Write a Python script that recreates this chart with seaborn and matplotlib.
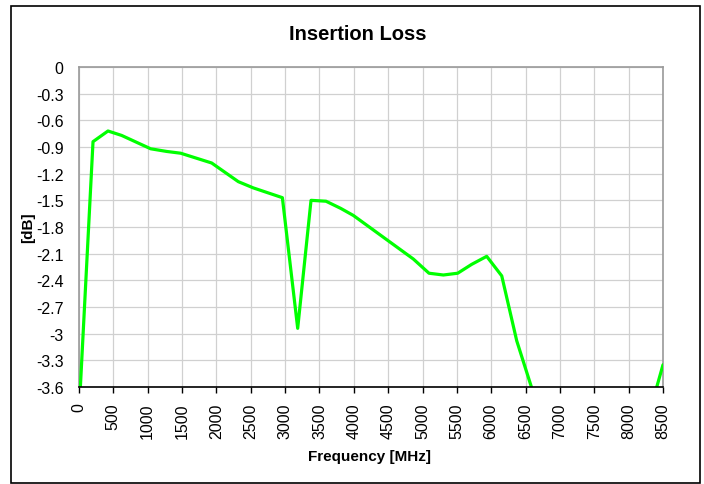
import numpy as np
import pandas as pd
import matplotlib
matplotlib.use("Agg")
import matplotlib.pyplot as plt
from matplotlib.patches import Rectangle
import seaborn as sns

# values (below -3.6 dB are estimates, clipped anyway)
freq_mhz = [10, 204, 422, 621, 1043, 1276, 1480, 1931, 2319, 2537, 2960,
            3183, 3377, 3595, 3808, 3993, 4866, 5094, 5303, 5512, 5716,
            5934, 6153, 6371, 6790, 7400, 8000, 8300, 8500]
loss_db = [-3.75, -0.84, -0.72, -0.77, -0.92, -0.95, -0.97, -1.08, -1.29,
           -1.36, -1.47, -2.94, -1.50, -1.51, -1.59, -1.67, -2.16, -2.32,
           -2.34, -2.32, -2.22, -2.13, -2.35, -3.08, -4.1, -5.0, -4.8,
           -3.9, -3.35]
x_ticks = list(range(0, 8501, 500))
y_ticks = [round(-0.3 * i, 1) for i in range(13)]

df = pd.DataFrame({"freq": freq_mhz, "loss": loss_db})

sns.set_style("white")
plt.rcParams["font.family"] = ["Liberation Sans", "DejaVu Sans"]
plt.rcParams["text.color"] = "black"
plt.rcParams["xtick.color"] = "black"
plt.rcParams["ytick.color"] = "black"

fig = plt.figure(figsize=(7.04, 4.85), dpi=100)
ax = fig.add_axes([79 / 704, 1 - 388 / 485, 584 / 704, 320 / 485])

sns.lineplot(data=df, x="freq", y="loss", ax=ax, color="#00ff00",
             linewidth=2.3, sort=False, zorder=3)

ax.set_xlim(0, 8500)
ax.set_ylim(-3.6, 0)
ax.set_xticks(x_ticks)
ax.set_xticklabels([str(t) for t in x_ticks], rotation=90, fontsize=11.5)
ax.set_yticks(y_ticks)
ax.set_yticklabels(["0" if t == 0 else f"{t:g}" for t in y_ticks], fontsize=11.5)
ax.grid(True, color="#d0d0d0", linewidth=0.9)
ax.tick_params(axis="x", length=4, width=1, color="black", pad=7, direction="out", bottom=True)
ax.tick_params(axis="y", length=0, pad=11)

for side in ["left", "top", "right"]:
    ax.spines[side].set_color("#9a9a9a")
    ax.spines[side].set_linewidth(1.2)
ax.spines["bottom"].set_color("black")
ax.spines["bottom"].set_linewidth(1.2)
ax.spines["bottom"].set_zorder(4)

ax.set_xlabel("")
ax.set_ylabel("")
fig.text(0.508, 1 - 34 / 485, "Insertion Loss", ha="center", va="center",
         fontsize=14.5, fontweight="bold")
fig.text(370 / 704, 1 - 457 / 485, "Frequency [MHz]", ha="center", va="center",
         fontsize=11, fontweight="bold")
fig.text(28 / 704, 1 - 228 / 485, "[dB]", ha="center", va="center",
         fontsize=11, fontweight="bold", rotation=90)

fig.patches.append(Rectangle((11 / 704, 1 - 484 / 485), 689 / 704, 477 / 485,
                             transform=fig.transFigure, fill=False,
                             edgecolor="black", linewidth=1.2))

fig.savefig("out.png", dpi=100)
